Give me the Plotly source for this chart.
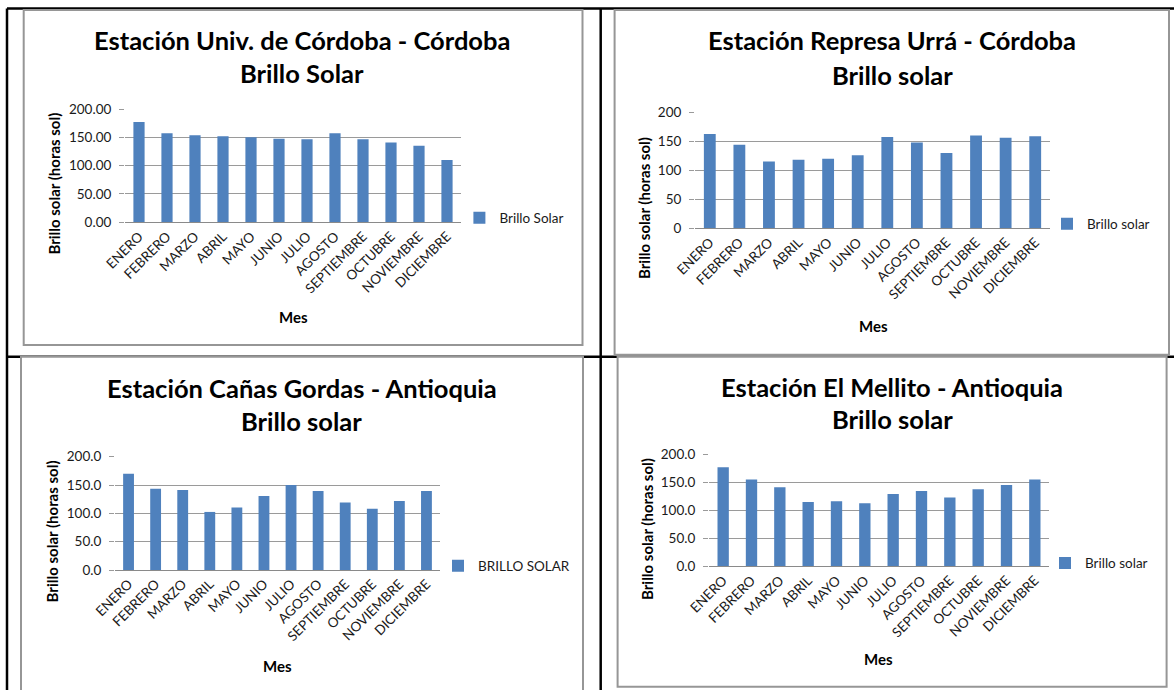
import plotly.graph_objects as go

# ---------------- data ----------------
months = ["ENERO", "FEBRERO", "MARZO", "ABRIL", "MAYO", "JUNIO", "JULIO",
          "AGOSTO", "SEPTIEMBRE", "OCTUBRE", "NOVIEMBRE", "DICIEMBRE"]

univ_cordoba = [177, 157, 153.5, 152, 150, 147.5, 146.5, 157, 146.5, 141, 135, 110]
represa_urra = [162.5, 144, 115, 118, 120, 126, 157.5, 148, 130, 160, 156, 158.5]
canas_gordas = [170, 143.5, 141, 102.5, 110.5, 130.5, 150, 139.5, 119, 108, 122, 139.5]
el_mellito = [177, 155, 141, 115, 116, 112.5, 129, 134.5, 123, 137.5, 145, 155]

titles_line1 = ["Estación Univ. de Córdoba - Córdoba",
                "Estación Represa Urrá - Córdoba",
                "Estación Cañas Gordas - Antioquia",
                "Estación El Mellito - Antioquia"]
titles_line2 = ["Brillo Solar", "Brillo solar", "Brillo solar", "Brillo solar"]
series_names = ["Brillo Solar", "Brillo solar", "BRILLO SOLAR", "Brillo solar"]
tick_formats = [".2f", "d", ".1f", ".1f"]
y_title = "Brillo solar (horas sol)"
x_title = "Mes"

W, H = 1174, 690
FONT = "Lato"
BAR = "#4F81BD"
GRID = "#9a9a9a"


def px(x):
    return x / W


def py(y):
    return 1 - y / H


# layout geometry (pixels) for the four panels
panels = [
    dict(vals=univ_cordoba, xd=(125, 461), yd=(222.3, 109), t1=(302, 40), t2=(302, 73),
         yt=(53.6, 184), xt=(293, 317), lg=(499.4, 218), box=(23.7, 10, 582.5, 345)),
    dict(vals=represa_urra, xd=(695, 1050), yd=(228.3, 112.3), t1=(892, 40), t2=(892, 75),
         yt=(644, 208), xt=(873, 326), lg=(1087, 224), box=(614.6, 10, 1169, 354.7)),
    dict(vals=canas_gordas, xd=(115, 440), yd=(570, 456.7), t1=(302, 388), t2=(301, 421),
         yt=(51.7, 531.7), xt=(277.5, 665.7), lg=(478, 566), box=(21, 356.7, 583, 693)),
    dict(vals=el_mellito, xd=(709, 1049), yd=(566.3, 454.3), t1=(892, 387.3), t2=(892, 419),
         yt=(647, 529), xt=(878, 659.3), lg=(1085, 563.3), box=(617.6, 356.7, 1166.6, 686.7)),
]

fig = go.Figure()
shapes = []
annotations = []

# table grid lines (black)
for (x0, y0, x1, y1) in [(7, 8.5, 1174, 8.5), (7, 8.5, 7, 690), (600.7, 8.5, 600.7, 690),
                         (7, 356.7, 1174, 356.7)]:
    shapes.append(dict(type="line", xref="paper", yref="paper", x0=px(x0), y0=py(y0),
                       x1=px(x1), y1=py(y1), line=dict(color="black", width=2.5), layer="below"))

layout_axes = {}
for i, p in enumerate(panels):
    n = "" if i == 0 else str(i + 1)
    bx0, by0, bx1, by1 = p["box"]
    shapes.append(dict(type="rect", xref="paper", yref="paper", x0=px(bx0), y0=py(by0),
                       x1=px(bx1), y1=py(by1), fillcolor="white",
                       line=dict(color="#969696", width=2), layer="below"))

    fig.add_trace(go.Bar(
        x=months, y=p["vals"], name=series_names[i],
        marker=dict(color=BAR, line=dict(width=0)),
        xaxis="x" + n, yaxis="y" + n,
        legend="legend" + n, showlegend=True,
    ))

    layout_axes["xaxis" + n] = dict(
        domain=[px(p["xd"][0]), px(p["xd"][1])], anchor="y" + n, automargin=False,
        type="category", tickangle=-45, showline=True, linecolor="#8a8a8a", linewidth=1,
        showgrid=False, ticks="", tickfont=dict(family=FONT, size=13.5, color="#1a1a1a"),
        fixedrange=True,
    )
    layout_axes["yaxis" + n] = dict(
        domain=[py(p["yd"][0]), py(p["yd"][1])], anchor="x" + n, automargin=False,
        range=[0, 200], dtick=50, tick0=0, tickformat=tick_formats[i],
        showgrid=True, gridcolor=GRID, gridwidth=1, zeroline=False, showline=False,
        ticks="outside", ticklen=5, tickcolor=GRID, ticklabelstandoff=5,
        tickfont=dict(family=FONT, size=13.5, color="#1a1a1a"), fixedrange=True,
    )
    layout_axes["legend" + n] = dict(
        x=px(p["lg"][0] - 40), y=py(p["lg"][1]), xanchor="left", yanchor="middle",
        xref="paper", yref="paper", bgcolor="rgba(0,0,0,0)", itemwidth=30,
        font=dict(family=FONT, size=13.5, color="#1a1a1a"),
    )

    for txt, (ax, ay) in [(titles_line1[i], p["t1"]), (titles_line2[i], p["t2"])]:
        annotations.append(dict(text="<b>%s</b>" % txt, x=px(ax), y=py(ay), xref="paper",
                                yref="paper", xanchor="center", yanchor="middle",
                                showarrow=False, font=dict(family=FONT, size=25.5, color="black")))
    annotations.append(dict(text="<b>%s</b>" % y_title, x=px(p["yt"][0]), y=py(p["yt"][1]),
                            xref="paper", yref="paper", xanchor="center", yanchor="middle",
                            textangle=-90, showarrow=False,
                            font=dict(family=FONT, size=15, color="black")))
    annotations.append(dict(text="<b>%s</b>" % x_title, x=px(p["xt"][0]), y=py(p["xt"][1]),
                            xref="paper", yref="paper", xanchor="center", yanchor="middle",
                            showarrow=False, font=dict(family=FONT, size=15, color="black")))

fig.update_layout(
    width=W, height=H, margin=dict(l=0, r=0, t=0, b=0, autoexpand=False),
    paper_bgcolor="white", plot_bgcolor="rgba(0,0,0,0)",
    bargap=0.6, shapes=shapes, annotations=annotations,
    font=dict(family=FONT),
    **layout_axes,
)

fig.write_html("out.html",
               config={"displayModeBar": False},
               post_script="document.body.style.margin='0px';"
                           "document.body.style.overflow='hidden';")
